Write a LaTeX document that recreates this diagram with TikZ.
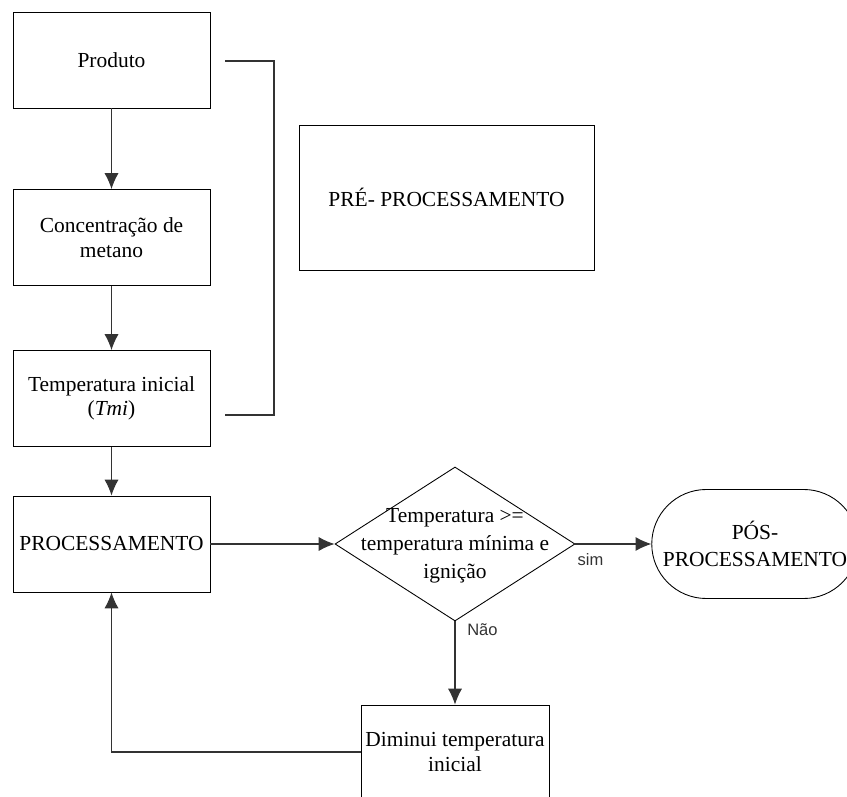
\documentclass[tikz,border=0pt]{standalone}
\usepackage{fontspec}
\setmainfont{Liberation Serif}
\setsansfont{Liberation Sans}
\usetikzlibrary{arrows.meta, shapes.geometric, shapes.misc}
\tikzset{>={Latex[length=9pt,width=8pt]}}
\tikzset{
  caixa/.style = {draw, line width = 0.5pt, minimum width = 3.94cm, minimum height = 1.92cm, align = center, inner sep = 1pt, font = \fontsize{12.2}{14}\selectfont},
  decisao/.style = {draw, line width = 0.5pt, diamond, minimum width = 4.8cm, minimum height = 3.08cm, inner sep = 0pt},
  terminal/.style = {draw, line width = 0.5pt, rounded rectangle, minimum width = 4.2cm, minimum height = 2.18cm, align = center, inner sep = 1pt, font = \fontsize{12.2}{15.3}\selectfont},
  seta/.style = {->, line width = 0.6pt, black!80},
  rotulo/.style = {font = \sffamily\fontsize{9.4}{11}\selectfont, inner sep = 1pt}
}
\begin{document}
\begin{tikzpicture}[x = 0.2cm, y = 0.2cm]
\useasboundingbox (0,0) rectangle (84.7,79.6);
\clip (0,0) rectangle (84.7,79.6);
\node[caixa] (produto) at (11.15, 73.6) {Produto};
\node[caixa] (metano) at (11.15, 55.85) {Concentração de\\metano};
\node[caixa] (tmi) at (11.15, 39.75) {Temperatura inicial\\(\textit{Tmi})};
\node[caixa] (proc) at (11.15, 25.2) {PROCESSAMENTO};
\node[caixa, minimum width = 5.9cm, minimum height = 2.9cm] (pre) at (44.65, 59.85) {PRÉ- PROCESSAMENTO};
\node[decisao] (teste) at (45.5, 25.2) {};
\node[align = center, font = \fontsize{12.2}{15.9}\selectfont] (testetxt) at (45.5, 25.0) {Temperatura >=\\temperatura mínima e\\ignição};
\node[terminal] (pos) at (75.5, 25.2) {PÓS-\\PROCESSAMENTO};
\node[caixa, minimum width = 3.76cm, minimum height = 1.88cm] (diminui) at (45.5, 4.4) {Diminui temperatura\\inicial};
\draw[line width = 0.6pt, black!80] (22.5, 73.5) -- (27.4, 73.5) -- (27.4, 38.1) -- (22.5, 38.1);
\draw[seta] (produto) -- (metano);
\draw[seta] (metano) -- (tmi);
\draw[seta] (tmi) -- (proc);
\draw[seta] (proc) -- (teste);
\draw[seta] (teste.east) -- node[rotulo, anchor = north west, pos = 0, yshift = -4pt] {sim} (pos.west);
\draw[seta] (teste.south) -- node[rotulo, anchor = north west, pos = 0, xshift = 0.2cm] {Não} (diminui.north);
\draw[seta] (diminui.west) -| (proc.south);
\end{tikzpicture}
\end{document}
